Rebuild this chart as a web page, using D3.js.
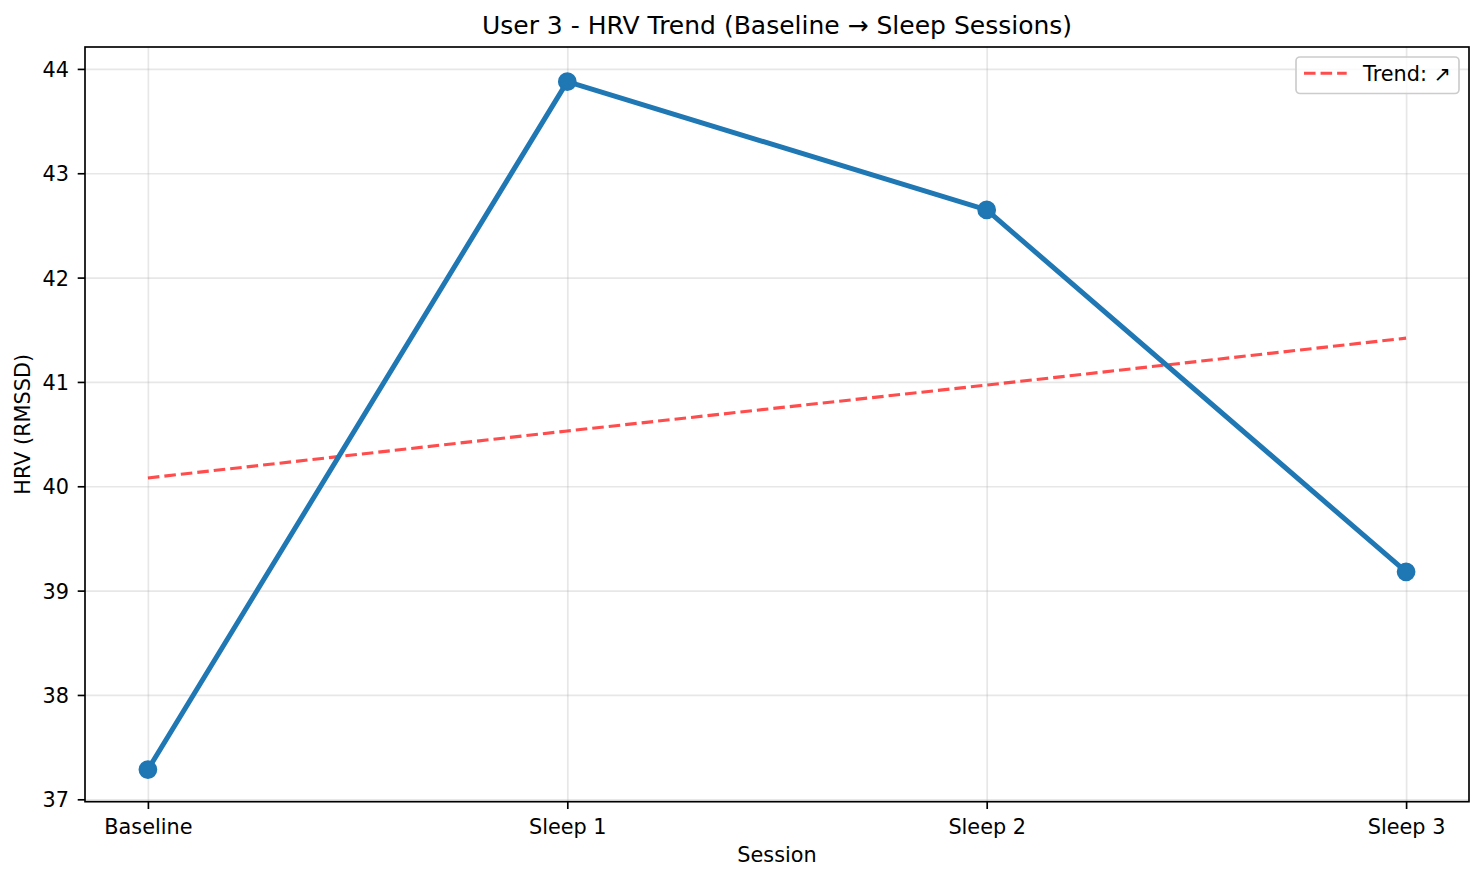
<!DOCTYPE html>
<html>
<head>
<meta charset="utf-8">
<script src="https://cdn.jsdelivr.net/npm/d3@7"></script>
<style>
	body { margin: 0; background: #fff; }
	svg { display: block; font-family: "DejaVu Sans", sans-serif; }
	.grid line { stroke: #b0b0b0; stroke-opacity: 0.3; stroke-width: 1.67px; }
	.grid path { display: none; }
	.axis path { display: none; }
	.axis line { stroke: #000; stroke-width: 1.67px; }
	.axis text { fill: #000; font-size: 20.8px; font-family: "DejaVu Sans", sans-serif; }
</style>
</head>
<body>
<script>
//////////////////////////////////////////////////
// data
//////////////////////////////////////////////////
var sessions = ['Baseline', 'Sleep 1', 'Sleep 2', 'Sleep 3'];
var hrvValues = [37.285, 43.878, 42.648, 39.18];
var trendValues = [40.08, 40.53, 40.97, 41.42];
var yTicks = [37, 38, 39, 40, 41, 42, 43, 44];
var trendLabel = 'Trend: \u2197';
var titleText = 'User 3 - HRV Trend (Baseline \u2192 Sleep Sessions)';

var width = 1484,
	height = 881,
	plot = {left: 85, right: 1469, top: 47, bottom: 801.7};

var svg = d3.select('body')
	.append('svg')
	.attr('width', width)
	.attr('height', height);

svg.append('rect')
	.attr('width', width)
	.attr('height', height)
	.attr('fill', '#fff');

// scales (matplotlib style 5% margins)
var x = d3.scaleLinear()
	.domain([-0.15, sessions.length - 1 + 0.15])
	.range([plot.left, plot.right]);

var y = d3.scaleLinear()
	.domain([36.977, 44.21])
	.range([plot.bottom, plot.top]);

var plotW = plot.right - plot.left,
	plotH = plot.bottom - plot.top;

//////////////////////////////////////////////////
// grid
//////////////////////////////////////////////////
svg.append('g')
	.attr('class', 'grid')
	.attr('transform', 'translate(0,' + plot.bottom + ')')
	.call(d3.axisBottom(x).tickValues(d3.range(sessions.length)).tickSize(-plotH).tickFormat(''));

svg.append('g')
	.attr('class', 'grid')
	.attr('transform', 'translate(' + plot.left + ',0)')
	.call(d3.axisLeft(y).tickValues(yTicks).tickSize(-plotW).tickFormat(''));

//////////////////////////////////////////////////
// trend line (dashed)
//////////////////////////////////////////////////
var line = d3.line()
	.x(function(d, i) { return x(i); })
	.y(function(d) { return y(d); });

svg.append('path')
	.datum(trendValues)
	.attr('d', line)
	.attr('fill', 'none')
	.attr('stroke', 'red')
	.attr('stroke-opacity', 0.7)
	.attr('stroke-width', 3.125)
	.attr('stroke-dasharray', '11.56,5');

//////////////////////////////////////////////////
// HRV series
//////////////////////////////////////////////////
svg.append('path')
	.datum(hrvValues)
	.attr('d', line)
	.attr('fill', 'none')
	.attr('stroke', '#1f77b4')
	.attr('stroke-width', 5)
	.attr('stroke-linejoin', 'round')
	.attr('stroke-linecap', 'square');

svg.selectAll('circle.pt')
	.data(hrvValues)
	.enter()
	.append('circle')
	.attr('class', 'pt')
	.attr('cx', function(d, i) { return x(i); })
	.attr('cy', function(d) { return y(d); })
	.attr('r', 8.33)
	.attr('fill', '#1f77b4')
	.attr('stroke', '#1f77b4')
	.attr('stroke-width', 2.08);

//////////////////////////////////////////////////
// axes + frame
//////////////////////////////////////////////////
var xAxis = svg.append('g')
	.attr('class', 'axis')
	.attr('transform', 'translate(0,' + plot.bottom + ')')
	.call(d3.axisBottom(x)
		.tickValues(d3.range(sessions.length))
		.tickSize(7.3)
		.tickPadding(7.3)
		.tickFormat(function(d) { return sessions[d]; }));
xAxis.selectAll('text').attr('dy', null).attr('y', 32.5);

var yAxis = svg.append('g')
	.attr('class', 'axis')
	.attr('transform', 'translate(' + plot.left + ',0)')
	.call(d3.axisLeft(y)
		.tickValues(yTicks)
		.tickSize(7.3)
		.tickPadding(7.3)
		.tickFormat(d3.format('d')));
yAxis.selectAll('text').attr('dy', '7.6px').attr('x', -16);

svg.append('rect')
	.attr('x', plot.left)
	.attr('y', plot.top)
	.attr('width', plotW)
	.attr('height', plotH)
	.attr('fill', 'none')
	.attr('stroke', '#000')
	.attr('stroke-width', 1.67);

//////////////////////////////////////////////////
// titles
//////////////////////////////////////////////////
svg.append('text')
	.attr('x', (plot.left + plot.right) / 2)
	.attr('y', 34)
	.attr('text-anchor', 'middle')
	.attr('font-size', '25px')
	.text(titleText);

svg.append('text')
	.attr('x', (plot.left + plot.right) / 2)
	.attr('y', 862)
	.attr('text-anchor', 'middle')
	.attr('font-size', '20.8px')
	.text('Session');

svg.append('text')
	.attr('transform', 'translate(30,' + ((plot.top + plot.bottom) / 2) + ') rotate(-90)')
	.attr('text-anchor', 'middle')
	.attr('font-size', '20.8px')
	.text('HRV (RMSSD)');

//////////////////////////////////////////////////
// legend
//////////////////////////////////////////////////
var legend = svg.append('g')
	.attr('transform', 'translate(1296,57)');

legend.append('rect')
	.attr('width', 163)
	.attr('height', 36.5)
	.attr('rx', 4)
	.attr('fill', '#fff')
	.attr('fill-opacity', 0.8)
	.attr('stroke', '#cccccc')
	.attr('stroke-width', 1.67);

legend.append('line')
	.attr('x1', 8)
	.attr('x2', 50.7)
	.attr('y1', 16.3)
	.attr('y2', 16.3)
	.attr('stroke', 'red')
	.attr('stroke-opacity', 0.7)
	.attr('stroke-width', 3.125)
	.attr('stroke-dasharray', '11.56,5');

legend.append('text')
	.attr('x', 67)
	.attr('y', 23.5)
	.attr('font-size', '20.8px')
	.text(trendLabel);
</script>
</body>
</html>
